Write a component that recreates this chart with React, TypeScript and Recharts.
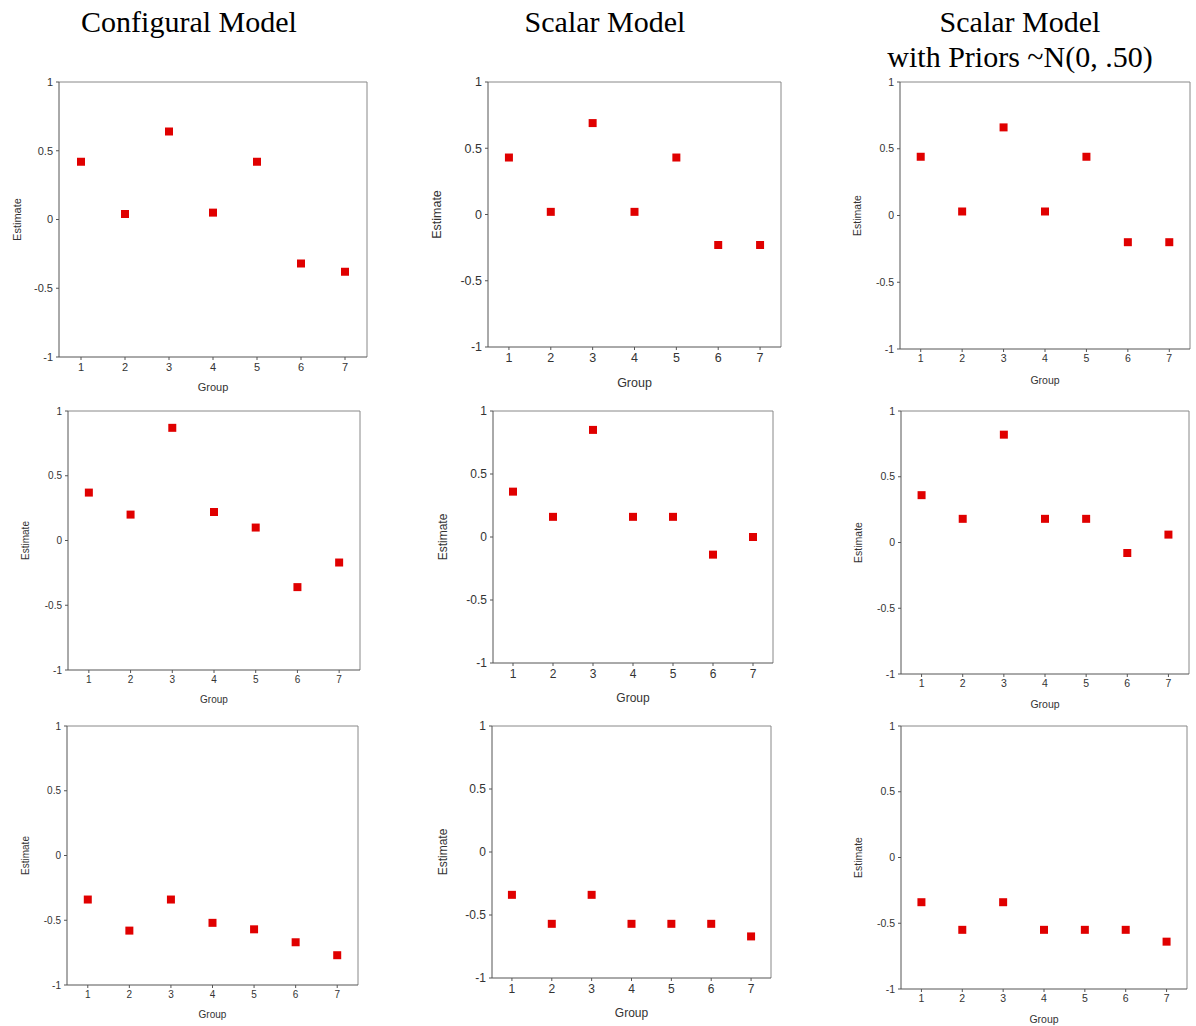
import { ScatterChart, Scatter, XAxis, YAxis, ZAxis, ReferenceLine } from 'recharts';

const GROUPS = [1, 2, 3, 4, 5, 6, 7];
const Y_TICKS = [-1, -0.5, 0, 0.5, 1];
const COLUMN_TITLES = ['Configural Model', 'Scalar Model', 'Scalar Model'];
const PRIOR_SUBTITLE = 'with Priors ~N(0, .50)';

// row 1
const configuralA = [0.42, 0.04, 0.64, 0.05, 0.42, -0.32, -0.38];
const scalarA = [0.43, 0.02, 0.69, 0.02, 0.43, -0.23, -0.23];
const priorsA = [0.44, 0.03, 0.66, 0.03, 0.44, -0.2, -0.2];
// row 2
const configuralB = [0.37, 0.2, 0.87, 0.22, 0.1, -0.36, -0.17];
const scalarB = [0.36, 0.16, 0.85, 0.16, 0.16, -0.14, 0.0];
const priorsB = [0.36, 0.18, 0.82, 0.18, 0.18, -0.08, 0.06];
// row 3
const configuralC = [-0.34, -0.58, -0.34, -0.52, -0.57, -0.67, -0.77];
const scalarC = [-0.34, -0.57, -0.34, -0.57, -0.57, -0.57, -0.67];
const priorsC = [-0.34, -0.55, -0.34, -0.55, -0.55, -0.55, -0.64];

const SANS = '"Liberation Sans", Arial, sans-serif';
const SERIF = '"Liberation Serif", "Times New Roman", serif';

// plot rectangles (page px), where the axis titles sit, text size, marker side
const panels = [
  { values: configuralA, l: 59, t: 82, r: 367, b: 357, estX: 17, groupY: 387, font: 11, dot: 7 },
  { values: scalarA, l: 488, t: 82, r: 781, b: 347, estX: 437, groupY: 383, font: 12.5, dot: 8 },
  { values: priorsA, l: 900, t: 82, r: 1190, b: 349, estX: 857, groupY: 380, font: 10.5, dot: 7 },
  { values: configuralB, l: 68, t: 411, r: 360, b: 670, estX: 25, groupY: 699, font: 10, dot: 7 },
  { values: scalarB, l: 493, t: 411, r: 773, b: 663, estX: 443, groupY: 698, font: 12, dot: 8 },
  { values: priorsB, l: 901, t: 411, r: 1189, b: 674, estX: 858, groupY: 704, font: 10.5, dot: 7 },
  { values: configuralC, l: 67, t: 726, r: 358, b: 985, estX: 25, groupY: 1014, font: 10, dot: 7 },
  { values: scalarC, l: 492, t: 726, r: 771, b: 978, estX: 443, groupY: 1013, font: 12, dot: 8 },
  { values: priorsC, l: 901, t: 726, r: 1187, b: 989, estX: 858, groupY: 1019, font: 10.5, dot: 7 },
];

const AXIS_W = 70;
const X_H = 45;
const PAD_T = 10;
const PAD_R = 5;

function XTitle(props: any) {
  const { viewBox, gap, size } = props;
  if (!viewBox) return null;
  return (
    <text x={viewBox.x + viewBox.width / 2} y={viewBox.y + gap} textAnchor="middle"
      dominantBaseline="central" fontSize={size} fill="#333" fontFamily={SANS}>
      Group
    </text>
  );
}

function YTitle(props: any) {
  const { viewBox, gap, size } = props;
  if (!viewBox) return null;
  const x = viewBox.x + viewBox.width - gap;
  const y = viewBox.y + viewBox.height / 2;
  return (
    <text x={x} y={y} transform={`rotate(-90, ${x}, ${y})`} textAnchor="middle"
      dominantBaseline="central" fontSize={size} fill="#333" fontFamily={SANS}>
      Estimate
    </text>
  );
}

function Panel({ p }: { p: (typeof panels)[number] }) {
  const data = GROUPS.map((g, i) => ({ group: g, est: p.values[i] }));
  const w = p.r - p.l + AXIS_W + PAD_R;
  const h = p.b - p.t + PAD_T + X_H;
  const tick = { fill: '#333', fontSize: p.font, fontFamily: SANS };
  return (
    <div style={{ position: 'absolute', left: p.l - AXIS_W, top: p.t - PAD_T }}>
      <ScatterChart width={w} height={h} margin={{ top: PAD_T, right: PAD_R, bottom: 0, left: 0 }}>
        <XAxis type="number" dataKey="group" domain={[0.5, 7.5]} ticks={GROUPS} interval={0}
          height={X_H} tickSize={3} tickMargin={3} stroke="#555" tick={tick}
          label={<XTitle gap={p.groupY - p.b} size={p.font} />} />
        <YAxis type="number" dataKey="est" domain={[-1, 1]} ticks={Y_TICKS} interval={0}
          width={AXIS_W} tickSize={3} tickMargin={3} stroke="#555" tick={tick}
          label={<YTitle gap={p.l - p.estX} size={p.font} />} />
        <ZAxis range={[p.dot * p.dot, p.dot * p.dot]} />
        <ReferenceLine y={1} stroke="#888" />
        <ReferenceLine x={7.5} stroke="#888" />
        <Scatter data={data} fill="#e00000" shape="square" isAnimationActive={false} />
      </ScatterChart>
    </div>
  );
}

const titleStyle = (cx: number, top: number) => ({
  position: 'absolute' as const,
  left: cx - 200,
  top,
  width: 400,
  textAlign: 'center' as const,
  fontFamily: SERIF,
  fontSize: 30,
  lineHeight: '36px',
  color: '#000',
  whiteSpace: 'nowrap' as const,
});

export default function App() {
  return (
    <div style={{ position: 'absolute', left: 0, top: 0, width: 1196, height: 1026, overflow: 'hidden', background: '#fff' }}>
      <div style={titleStyle(189, 4)}>{COLUMN_TITLES[0]}</div>
      <div style={titleStyle(605, 4)}>{COLUMN_TITLES[1]}</div>
      <div style={titleStyle(1020, 4)}>{COLUMN_TITLES[2]}</div>
      <div style={titleStyle(1020, 39)}>{PRIOR_SUBTITLE}</div>
      {panels.map((p, i) => (
        <Panel key={i} p={p} />
      ))}
    </div>
  );
}
